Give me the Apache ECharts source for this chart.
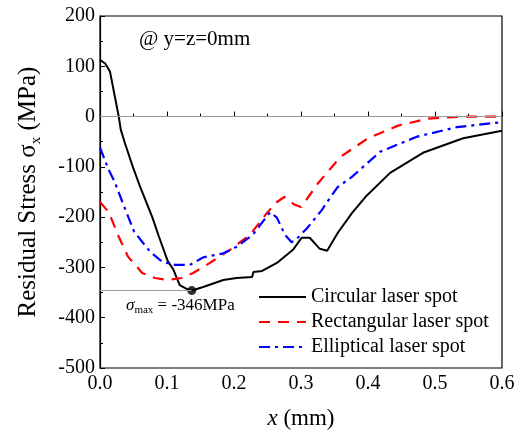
<!DOCTYPE html>
<html>
<head>
<meta charset="utf-8">
<script src="https://cdn.jsdelivr.net/npm/echarts@6/dist/echarts.min.js"></script>
<style>
  html, body { margin: 0; padding: 0; background: #fff; }
  #main { width: 522px; height: 440px; }
</style>
</head>
<body>
<div id="main"></div>
<script>
// data (x in mm, stress in MPa)
var circX = [0, 0.008, 0.015, 0.028, 0.031, 0.037, 0.049, 0.060, 0.078, 0.088, 0.101, 0.109, 0.119, 0.130, 0.137, 0.154, 0.184, 0.204, 0.227, 0.229, 0.242, 0.264, 0.288, 0.301, 0.313, 0.328, 0.339, 0.355, 0.376, 0.396, 0.433, 0.482, 0.542, 0.6];
var circY = [113, 105, 89, 0, -26, -52, -100, -140, -200, -239, -287, -303, -335, -343, -346, -339, -325, -321, -319, -309, -307, -291, -265, -241, -241, -263, -267, -231, -192, -160, -112, -72, -43, -28];

var rectX = [0, 0.013, 0.028, 0.042, 0.063, 0.082, 0.101, 0.122, 0.139, 0.164, 0.194, 0.224, 0.249, 0.262, 0.275, 0.281, 0.29, 0.30, 0.313, 0.327, 0.359, 0.40, 0.445, 0.49, 0.54, 0.6];
var rectY = [-170, -190, -239, -279, -311, -321, -325, -321, -311, -291, -265, -235, -192, -172, -160, -165, -175, -180, -156, -130, -80, -43, -18, -4, 0, 0];

var ellX = [0, 0.013, 0.022, 0.034, 0.051, 0.075, 0.093, 0.112, 0.134, 0.154, 0.184, 0.204, 0.228, 0.243, 0.254, 0.264, 0.276, 0.286, 0.296, 0.309, 0.331, 0.343, 0.355, 0.376, 0.418, 0.473, 0.533, 0.6];
var ellY = [-62, -106, -130, -172, -229, -269, -289, -295, -295, -280, -272, -259, -235, -209, -190, -201, -235, -250, -240, -222, -186, -162, -140, -120, -70, -40, -21, -11];

var seriesNames = ['Circular laser spot', 'Rectangular laser spot', 'Elliptical laser spot'];
var minPoint = [0.137, -346];

function pairs(xs, ys) {
  return xs.map(function (x, i) { return [x, ys[i]]; });
}

var serif = '"Liberation Serif", "DejaVu Serif", serif';
var myChart = echarts.init(document.getElementById('main'));

var option = {
  animation: false,
  grid: {
    left: 100, right: 20, top: 16, bottom: 72,
    show: true, borderColor: '#000', borderWidth: 1.2
  },
  legend: {
    orient: 'vertical',
    left: 253, top: 282,
    itemWidth: 47, itemHeight: 20, itemGap: 5,
    itemStyle: { opacity: 0 },
    textStyle: { fontFamily: serif, fontSize: 20, color: '#000' },
    data: seriesNames
  },
  xAxis: {
    type: 'value', min: 0, max: 0.6, interval: 0.1,
    name: '{i|x} (mm)',
    nameLocation: 'middle', nameGap: 39,
    nameTextStyle: {
      fontFamily: serif, fontSize: 23, color: '#000',
      rich: { i: { fontFamily: serif, fontSize: 23, fontStyle: 'italic', color: '#000' } }
    },
    axisLine: { lineStyle: { color: '#000', width: 1.2 } },
    axisTick: { inside: true, length: 5, lineStyle: { color: '#000' } },
    minorTick: { show: true, splitNumber: 2, length: 3, lineStyle: { color: '#000' } },
    axisLabel: {
      fontFamily: serif, fontSize: 20, color: '#000', margin: 6,
      formatter: function (v) { return v.toFixed(1); }
    },
    splitLine: { show: false }
  },
  yAxis: {
    type: 'value', min: -500, max: 200, interval: 100,
    name: 'Residual Stress σ{s|x} (MPa)',
    nameLocation: 'middle', nameGap: 56, nameRotate: 90,
    nameTextStyle: {
      fontFamily: serif, fontSize: 25, color: '#000',
      rich: { s: { fontFamily: serif, fontSize: 15, color: '#000', padding: [16, 0, 0, 0] } }
    },
    axisLine: { lineStyle: { color: '#000', width: 1.2 } },
    axisTick: { inside: true, length: 5, lineStyle: { color: '#000' } },
    minorTick: { show: true, splitNumber: 2, length: 3, lineStyle: { color: '#000' } },
    axisLabel: { fontFamily: serif, fontSize: 20, color: '#000', margin: 5 },
    splitLine: { show: false }
  },
  series: [
    {
      name: seriesNames[0], type: 'line', symbol: 'none',
      data: pairs(circX, circY),
      lineStyle: { color: '#000', width: 2 },
      itemStyle: { color: '#000' },
      markLine: {
        silent: true, symbol: 'none', label: { show: false },
        lineStyle: { color: '#999', width: 1, type: 'solid' },
        data: [
          { yAxis: 0 },
          [{ coord: [0, minPoint[1]] }, { coord: minPoint }]
        ]
      },
      z: 3
    },
    {
      name: seriesNames[1], type: 'line', symbol: 'none',
      data: pairs(rectX, rectY),
      lineStyle: { color: '#ff0000', width: 2.2, type: [11, 8] },
      itemStyle: { color: '#ff0000' }
    },
    {
      name: seriesNames[2], type: 'line', symbol: 'none',
      data: pairs(ellX, ellY),
      lineStyle: { color: '#0000ff', width: 2.2, type: [11, 5, 3, 5] },
      itemStyle: { color: '#0000ff' }
    },
    {
      name: 'min', type: 'scatter', symbol: 'circle', symbolSize: 9,
      data: [minPoint],
      itemStyle: { color: '#000' },
      z: 4
    }
  ],
  graphic: [
    {
      type: 'text', left: 139, top: 29,
      style: { text: '@ y=z=0mm', font: '21px ' + serif, fill: '#000' }
    },
    {
      type: 'text', left: 126, top: 297,
      style: {
        text: '{g|σ}{m|max}{t| = -346MPa}',
        rich: {
          g: { font: 'italic 17px ' + serif, fill: '#000' },
          m: { font: '11px ' + serif, fill: '#000', padding: [10, 0, 0, 0] },
          t: { font: '17px ' + serif, fill: '#000' }
        }
      }
    }
  ]
};

myChart.setOption(option);
</script>
</body>
</html>
